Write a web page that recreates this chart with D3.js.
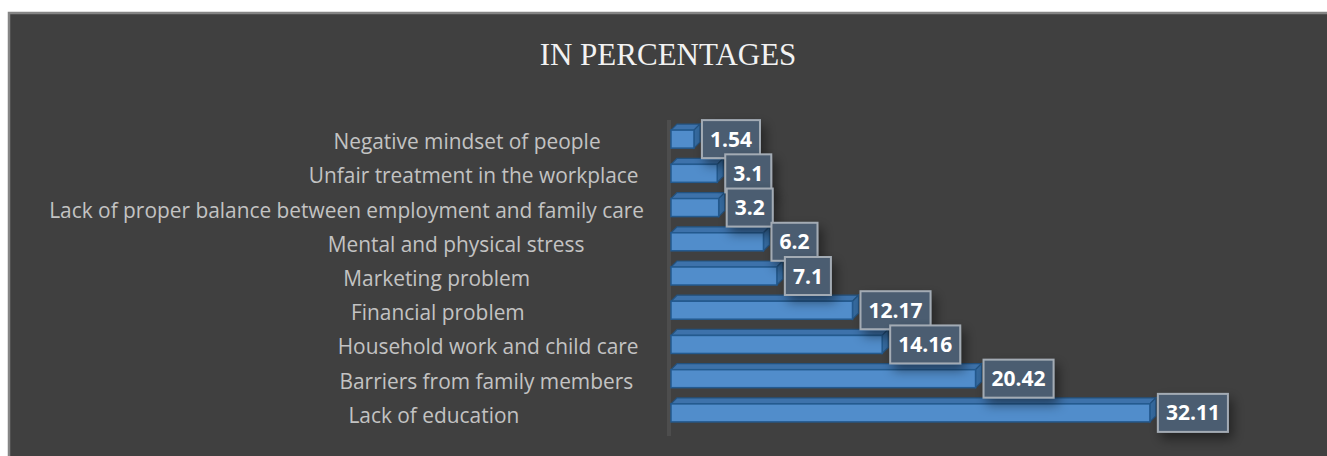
<!DOCTYPE html>
<html>
<head>
<meta charset="utf-8">
<script src="https://cdn.jsdelivr.net/npm/d3@7"></script>
<style>
  body { margin: 0; background: #fff; }
  svg { display: block; }
  .cat { white-space: pre; }
</style>
</head>
<body>
<div id="chart"></div>
<script>
// chart data
const title = "IN PERCENTAGES";
// trailing spaces are part of the original category labels (they are right aligned)
const categories = [
  "Negative mindset of people        ",
  "Unfair treatment in the workplace ",
  "Lack of proper balance between employment and family care",
  "Mental and physical stress           ",
  "Marketing problem                     ",
  "Financial problem                      ",
  "Household work and child care ",
  "Barriers from family members  ",
  "Lack of education                       "
];
const values = [1.54, 3.1, 3.2, 6.2, 7.1, 12.17, 14.16, 20.42, 32.11];
const valueLabels = ["1.54", "3.1", "3.2", "6.2", "7.1", "12.17", "14.16", "20.42", "32.11"];

const width = 1327;
const height = 456;
const depth = 6; // 3d bar offset

const svg = d3.select("#chart")
  .append("svg")
  .attr("width", width)
  .attr("height", height);

const defs = svg.append("defs");
const shadow = defs.append("filter").attr("id", "shadow")
  .attr("x", "-30%").attr("y", "-30%").attr("width", "170%").attr("height", "190%");
shadow.append("feDropShadow")
  .attr("dx", 4).attr("dy", 6).attr("stdDeviation", 6)
  .attr("flood-color", "#000").attr("flood-opacity", 0.45);

// chart area
svg.append("rect")
  .attr("x", 9).attr("y", 13)
  .attr("width", width).attr("height", height)
  .attr("fill", "#404040")
  .attr("stroke", "#858585")
  .attr("stroke-width", 2.5);

svg.append("text")
  .attr("x", 668).attr("y", 65)
  .attr("text-anchor", "middle")
  .attr("font-family", "'Liberation Serif', 'Times New Roman', serif")
  .attr("font-size", 31)
  .attr("fill", "#f2f2f2")
  .text(title);

const x = d3.scaleLinear().domain([0, 35]).range([671, 1193]);
const y = d3.scaleBand().domain(categories).range([122, 430]);
const mid = d => y(d) + y.bandwidth() / 2;
const barH = 18;

// back wall of the 3d axis
svg.append("rect")
  .attr("x", x(0) - 4).attr("y", y.range()[0] - 2)
  .attr("width", 4).attr("height", y.range()[1] - y.range()[0] + 8)
  .attr("fill", "#4d4d4d");

const rows = categories.map((c, i) => ({ cat: c, value: values[i], label: valueLabels[i] }));

// category labels
const catFont = "'Open Sans', 'Noto Sans', sans-serif";
const labels = svg.append("g").selectAll("text")
  .data(rows)
  .enter().append("text")
  .attr("class", "cat")
  .attr("x", 644)
  .attr("y", d => mid(d.cat) + 10)
  .attr("text-anchor", "end")
  .attr("font-family", catFont)
  .attr("font-size", 20)
  .attr("fill", "#c3c3c3")
  .text(d => d.cat);

// fit the font size to the longest label, like the original
const longest = labels.filter((d, i) => i === 2).node().getComputedTextLength();
labels.attr("font-size", 20 * 595 / longest);

// bars
const bars = svg.append("g").selectAll("g")
  .data(rows)
  .enter().append("g");

bars.append("path") // top face
  .attr("d", d => {
    const x0 = x(0), x1 = x(d.value), t = mid(d.cat) - barH / 2;
    return `M${x0},${t} L${x0 + depth},${t - depth} L${x1 + depth},${t - depth} L${x1},${t} Z`;
  })
  .attr("fill", "#3d72ab")
  .attr("stroke", "#23527f")
  .attr("stroke-width", 1.2);

bars.append("path") // end face
  .attr("d", d => {
    const x1 = x(d.value), t = mid(d.cat) - barH / 2;
    return `M${x1},${t} L${x1 + depth},${t - depth} L${x1 + depth},${t - depth + barH} L${x1},${t + barH} Z`;
  })
  .attr("fill", "#356a9f")
  .attr("stroke", "#23527f")
  .attr("stroke-width", 1.2);

bars.append("rect") // front face
  .attr("x", x(0))
  .attr("y", d => mid(d.cat) - barH / 2)
  .attr("width", d => x(d.value) - x(0))
  .attr("height", barH)
  .attr("fill", "#518dcb")
  .attr("stroke", "#235a8f")
  .attr("stroke-width", 1.5);

// value labels in boxes
const valFont = "'Open Sans', sans-serif";
const boxes = svg.append("g").selectAll("g")
  .data(rows)
  .enter().append("g");

const boxRect = boxes.append("rect")
  .attr("y", d => mid(d.cat) - 19)
  .attr("height", 38)
  .attr("fill", "#4b5d71")
  .attr("stroke", "#a3abb4")
  .attr("stroke-width", 2)
  .attr("filter", "url(#shadow)");

const boxText = boxes.append("text")
  .attr("y", d => mid(d.cat) + 7.5)
  .attr("font-family", valFont)
  .attr("font-weight", "bold")
  .attr("font-size", 21)
  .attr("fill", "#ffffff")
  .text(d => d.label);

boxText.each(function(d) {
  const w = this.getComputedTextLength();
  d.boxX = x(d.value) + 8;
  d.boxW = w + 16;
  d3.select(this).attr("x", d.boxX + 8);
});
boxRect.attr("x", d => d.boxX).attr("width", d => d.boxW);
</script>
</body>
</html>
